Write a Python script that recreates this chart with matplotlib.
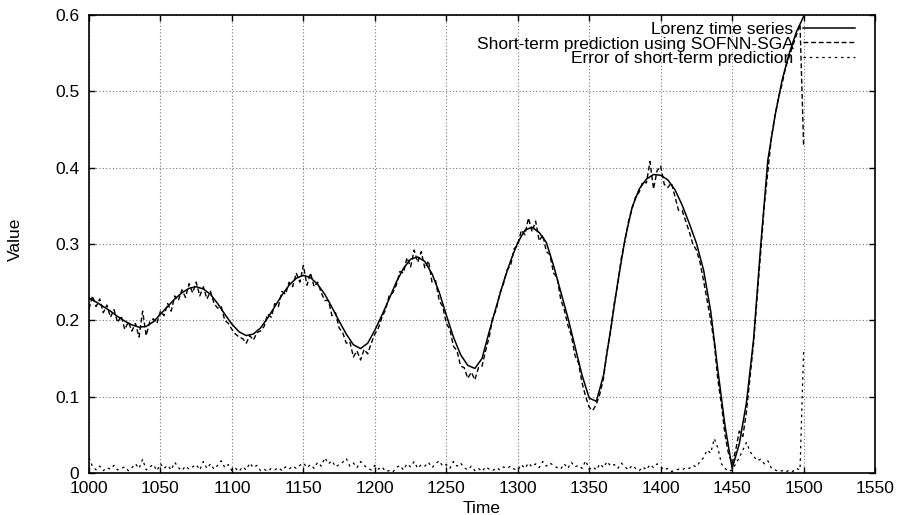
import numpy as np
import matplotlib
matplotlib.use("Agg")
import matplotlib.pyplot as plt
from matplotlib.ticker import MultipleLocator, FuncFormatter

plt.rcParams['font.family'] = ['Liberation Sans', 'DejaVu Sans']

# Lorenz series read every 5 time steps (1000 .. 1500)
time_lorenz = np.arange(1000, 1501, 5)
lorenz = [
    0.229, 0.224, 0.218, 0.212, 0.205, 0.199, 0.194, 0.191, 0.192, 0.198,
    0.208, 0.218, 0.228, 0.236, 0.242, 0.244, 0.241, 0.234, 0.222, 0.208,
    0.195, 0.185, 0.180, 0.182, 0.190, 0.203, 0.218, 0.233, 0.246, 0.255,
    0.259, 0.256, 0.247, 0.234, 0.217, 0.199, 0.182, 0.168, 0.163, 0.170,
    0.187, 0.207, 0.228, 0.250, 0.268, 0.280, 0.283, 0.277, 0.261, 0.237,
    0.207, 0.178, 0.155, 0.141, 0.137, 0.150, 0.185, 0.218, 0.250, 0.278,
    0.302, 0.318, 0.322, 0.315, 0.302, 0.272, 0.238, 0.204, 0.166, 0.128,
    0.098, 0.094, 0.128, 0.188, 0.250, 0.306, 0.348, 0.372, 0.385, 0.391,
    0.390, 0.384, 0.371, 0.351, 0.327, 0.301, 0.266, 0.212, 0.135, 0.062,
    0.006, 0.038, 0.092, 0.175, 0.298, 0.410, 0.468, 0.515, 0.550, 0.578,
    0.598,
]

# prediction and error read every 2.5 time steps
time_pred = np.arange(0, 201) * 2.5 + 1000
prediction = [
    0.215, 0.232, 0.218, 0.228, 0.210, 0.220, 0.204, 0.214, 0.197, 0.206,
    0.188, 0.198, 0.186, 0.196, 0.178, 0.212, 0.180, 0.198, 0.202, 0.196,
    0.212, 0.206, 0.222, 0.212, 0.232, 0.226, 0.240, 0.230, 0.248, 0.236,
    0.250, 0.232, 0.244, 0.228, 0.238, 0.222, 0.216, 0.218, 0.200, 0.196,
    0.188, 0.182, 0.178, 0.176, 0.170, 0.180, 0.174, 0.184, 0.186, 0.192,
    0.208, 0.204, 0.222, 0.218, 0.238, 0.234, 0.250, 0.244, 0.262, 0.250,
    0.272, 0.246, 0.262, 0.244, 0.250, 0.236, 0.226, 0.226, 0.206, 0.210,
    0.190, 0.184, 0.170, 0.172, 0.152, 0.160, 0.148, 0.162, 0.156, 0.170,
    0.182, 0.190, 0.204, 0.214, 0.232, 0.236, 0.246, 0.264, 0.262, 0.282,
    0.270, 0.292, 0.276, 0.290, 0.268, 0.278, 0.250, 0.252, 0.226, 0.218,
    0.196, 0.188, 0.166, 0.160, 0.140, 0.138, 0.124, 0.132, 0.122, 0.138,
    0.140, 0.160, 0.178, 0.204, 0.214, 0.236, 0.248, 0.266, 0.272, 0.294,
    0.298, 0.318, 0.312, 0.334, 0.316, 0.330, 0.304, 0.312, 0.290, 0.286,
    0.262, 0.256, 0.228, 0.214, 0.194, 0.180, 0.154, 0.144, 0.118, 0.100,
    0.086, 0.082, 0.090, 0.104, 0.124, 0.160, 0.186, 0.222, 0.248, 0.282,
    0.304, 0.330, 0.346, 0.362, 0.368, 0.382, 0.380, 0.408, 0.372, 0.396,
    0.402, 0.378, 0.374, 0.380, 0.362, 0.344, 0.344, 0.330, 0.316, 0.300,
    0.292, 0.276, 0.252, 0.226, 0.200, 0.170, 0.122, 0.090, 0.050, 0.025,
    0.012, 0.030, 0.055, 0.048, 0.080, 0.125, 0.170, 0.230, 0.290, 0.350,
    0.395, 0.440, 0.468, 0.492, 0.510, 0.532, 0.546, 0.560, 0.574, 0.588,
    0.430,
]
error = [
    0.020, 0.008, 0.004, 0.009, 0.003, 0.007, 0.005, 0.010, 0.004, 0.006,
    0.008, 0.003, 0.007, 0.012, 0.006, 0.018, 0.004, 0.008, 0.011, 0.003,
    0.012, 0.006, 0.010, 0.004, 0.014, 0.007, 0.003, 0.009, 0.005, 0.008,
    0.011, 0.004, 0.015, 0.006, 0.012, 0.005, 0.010, 0.016, 0.007, 0.011,
    0.003, 0.006, 0.002, 0.008, 0.004, 0.013, 0.007, 0.010, 0.003, 0.005,
    0.002, 0.006, 0.004, 0.007, 0.003, 0.008, 0.005, 0.009, 0.006, 0.010,
    0.013, 0.007, 0.011, 0.006, 0.014, 0.009, 0.020, 0.012, 0.016, 0.008,
    0.011, 0.014, 0.019, 0.009, 0.013, 0.007, 0.015, 0.010, 0.006, 0.004,
    0.010, 0.005, 0.008, 0.002, 0.003, 0.001, 0.007, 0.010, 0.004, 0.012,
    0.008, 0.015, 0.006, 0.011, 0.009, 0.014, 0.007, 0.012, 0.016, 0.009,
    0.011, 0.006, 0.015, 0.009, 0.013, 0.007, 0.004, 0.009, 0.003, 0.006,
    0.002, 0.008, 0.005, 0.003, 0.007, 0.004, 0.008, 0.006, 0.009, 0.005,
    0.004, 0.011, 0.006, 0.013, 0.008, 0.012, 0.007, 0.015, 0.009, 0.013,
    0.010, 0.007, 0.005, 0.012, 0.006, 0.014, 0.008, 0.010, 0.006, 0.016,
    0.005, 0.008, 0.004, 0.012, 0.007, 0.015, 0.009, 0.011, 0.006, 0.013,
    0.008, 0.004, 0.010, 0.006, 0.003, 0.008, 0.004, 0.011, 0.007, 0.012,
    0.008, 0.004, 0.006, 0.002, 0.003, 0.005, 0.004, 0.007, 0.006, 0.010,
    0.008, 0.015, 0.020, 0.030, 0.026, 0.045, 0.033, 0.012, 0.006, 0.002,
    0.004, 0.012, 0.020, 0.030, 0.040, 0.028, 0.022, 0.016, 0.018, 0.012,
    0.016, 0.006, 0.004, 0.002, 0.003, 0.001, 0.004, 0.002, 0.006, 0.004,
    0.160,
]

fs = 12.5
fig = plt.figure(figsize=(9.01, 5.15), dpi=100)
ax = fig.add_axes([0.0988, 0.0816, 0.8724, 0.8893])

ax.plot(time_lorenz, lorenz, color='black', lw=1.1, label='Lorenz time series')
ax.plot(time_pred, prediction, color='black', lw=1.0, dashes=(3.5, 2.0),
        label='Short-term prediction using SOFNN-SGA')
ax.plot(time_pred, error, color='black', lw=0.9, dashes=(2.0, 3.0),
        label='Error of short-term prediction')

ax.set_xlim(1000, 1550)
ax.set_ylim(0, 0.6)
ax.xaxis.set_major_locator(MultipleLocator(50))
ax.yaxis.set_major_locator(MultipleLocator(0.1))
ax.yaxis.set_major_formatter(FuncFormatter(lambda v, p: '%g' % round(v, 2)))
ax.tick_params(direction='in', length=4, width=1.0, top=True, right=True,
               labelsize=fs, pad=7)
ax.tick_params(axis='x', pad=6)
ax.grid(True, color='#777777', lw=0.8, linestyle=(0, (1, 2)))
for s in ax.spines.values():
    s.set_linewidth(1.2)

ax.set_xlabel('Time', fontsize=fs)
ax.set_ylabel('Value', fontsize=fs)
ax.xaxis.set_label_coords(0.5, -0.062)
ax.yaxis.set_label_coords(-0.084, 0.51)

ax.legend(loc='upper right', bbox_to_anchor=(0.9746, 0.9856), frameon=False,
          markerfirst=False, fontsize=fs, handlelength=3.0, handletextpad=0.55,
          labelspacing=-0.02, borderaxespad=0.0, borderpad=0.0)

fig.savefig('out.png', dpi=100)
